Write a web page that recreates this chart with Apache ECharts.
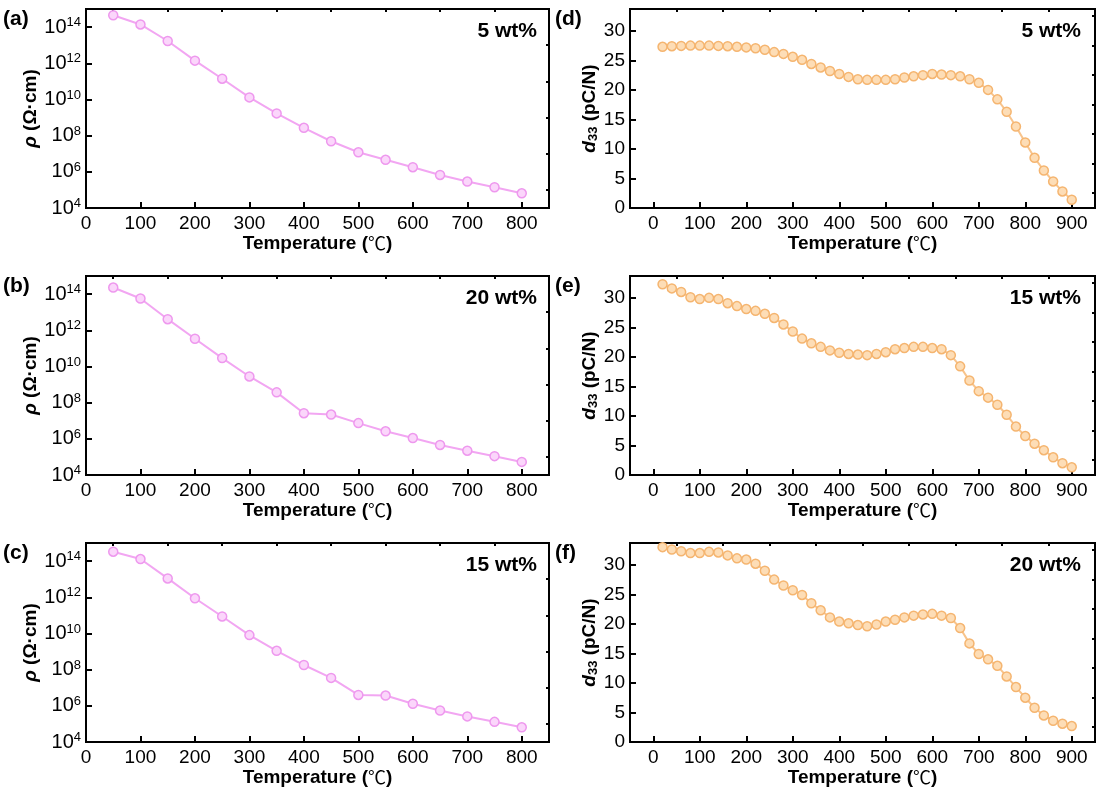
<!DOCTYPE html>
<html>
<head>
<meta charset="utf-8">
<script src="https://cdn.jsdelivr.net/npm/echarts@6/dist/echarts.min.js"></script>
<style>
html, body { margin: 0; padding: 0; background: #fff; }
#chart { width: 1099px; height: 798px; }
</style>
</head>
<body>
<div id="chart"></div>
<script>
// (a)-(c): resistivity vs temperature, rho in Ω·cm
const rhoTemps = [50, 100, 150, 200, 250, 300, 350, 400, 450, 500, 550, 600, 650, 700, 750, 800];
const rho5  = [4.5e14, 1.4e14, 1.7e13, 1.4e12, 1.4e11, 1.3e10, 1.7e9, 2.7e8, 4.9e7, 1.2e7, 4.6e6, 1.8e6, 6.7e5, 2.9e5, 1.4e5, 6.5e4];
const rho20 = [2.3e14, 5.7e13, 4.1e12, 3.4e11, 2.9e10, 2.8e9, 3.7e8, 2.6e7, 2.2e7, 7.4e6, 2.6e6, 1.1e6, 4.6e5, 2.2e5, 1.1e5, 5.3e4];
const rho15 = [3.3e14, 1.3e14, 1.1e13, 8.8e11, 8.7e10, 8.1e9, 1.1e9, 1.8e8, 3.5e7, 4.0e6, 3.7e6, 1.3e6, 5.5e5, 2.6e5, 1.3e5, 6.5e4];

// (d)-(f): d33 vs temperature, pC/N
const d33Temps = [20, 40, 60, 80, 100, 120, 140, 160, 180, 200, 220, 240, 260, 280, 300, 320, 340, 360, 380, 400, 420, 440, 460,
  480, 500, 520, 540, 560, 580, 600, 620, 640, 660, 680, 700, 720, 740, 760, 780, 800, 820, 840, 860, 880, 900];
const d33_5  = [27.3, 27.4, 27.45, 27.5, 27.5, 27.5, 27.45, 27.4, 27.3, 27.2, 27.05, 26.8, 26.4, 26.1, 25.6, 25.1, 24.4, 23.8, 23.2, 22.7, 22.2, 21.8, 21.7,
  21.7, 21.7, 21.8, 22.1, 22.3, 22.5, 22.7, 22.6, 22.5, 22.3, 21.8, 21.2, 20.0, 18.4, 16.3, 13.8, 11.1, 8.5, 6.35, 4.5, 2.8, 1.4];
const d33_15 = [32.3, 31.6, 31.0, 30.1, 29.8, 30.0, 29.8, 29.1, 28.6, 28.1, 27.8, 27.3, 26.6, 25.5, 24.3, 23.1, 22.3, 21.7, 21.1, 20.7, 20.5, 20.4, 20.3,
  20.5, 20.8, 21.3, 21.5, 21.7, 21.7, 21.5, 21.3, 20.3, 18.4, 16.0, 14.2, 13.1, 11.9, 10.2, 8.2, 6.6, 5.3, 4.2, 3.0, 2.0, 1.3];
const d33_20 = [33.0, 32.6, 32.3, 32.0, 32.0, 32.2, 32.1, 31.6, 31.1, 30.9, 30.2, 29.0, 27.5, 26.5, 25.7, 24.9, 23.5, 22.3, 21.1, 20.4, 20.1, 19.8, 19.6,
  19.9, 20.4, 20.7, 21.1, 21.4, 21.6, 21.7, 21.4, 21.0, 19.3, 16.7, 14.9, 14.0, 12.9, 11.1, 9.3, 7.5, 5.8, 4.5, 3.6, 3.1, 2.7];

// tick values
const rhoMajorExp = [4, 6, 8, 10, 12, 14];
const rhoMinorExp = [5, 7, 9, 11, 13];
const tempMajorL = [0, 100, 200, 300, 400, 500, 600, 700, 800];
const tempMinorL = [50, 150, 250, 350, 450, 550, 650, 750];
const tempMajorR = [0, 100, 200, 300, 400, 500, 600, 700, 800, 900];
const tempMinorR = [50, 150, 250, 350, 450, 550, 650, 750, 850];
const d33Major = [0, 5, 10, 15, 20, 25, 30];
const d33Minor = [2.5, 7.5, 12.5, 17.5, 22.5, 27.5, 32.5];

const panels = [
  { tag: '(a)', label: '5 wt%',  col: 0, row: 0, x: rhoTemps, y: rho5,   kind: 'rho' },
  { tag: '(b)', label: '20 wt%', col: 0, row: 1, x: rhoTemps, y: rho20,  kind: 'rho' },
  { tag: '(c)', label: '15 wt%', col: 0, row: 2, x: rhoTemps, y: rho15,  kind: 'rho' },
  { tag: '(d)', label: '5 wt%',  col: 1, row: 0, x: d33Temps, y: d33_5,  kind: 'd33' },
  { tag: '(e)', label: '15 wt%', col: 1, row: 1, x: d33Temps, y: d33_15, kind: 'd33' },
  { tag: '(f)', label: '20 wt%', col: 1, row: 2, x: d33Temps, y: d33_20, kind: 'd33' }
];

const FONT = '"Liberation Sans", Arial, "Noto Sans CJK SC", sans-serif';
const rowTop = [9, 276, 543];
const colLeft = [86, 630];
const colWidth = [463, 465];
const plotH = 199;

const grid = [], xAxis = [], yAxis = [], series = [], graphic = [];

panels.forEach((p, i) => {
  const isRho = p.kind === 'rho';
  const left = colLeft[p.col], top = rowTop[p.row];
  grid.push({ left: left, top: top, width: colWidth[p.col], height: plotH,
    show: true, borderColor: '#000', borderWidth: 2, backgroundColor: 'transparent' });

  const xr = isRho ? { min: 0, max: 850 } : { min: -50, max: 950 };
  const yr = isRho ? { min: 4, max: 15 } : { min: 0, max: 33.7 };

  // main x axis with labels
  xAxis.push({
    type: 'value', gridIndex: i, min: xr.min, max: xr.max,
    name: 'Temperature ({c|℃})', nameLocation: 'middle', nameGap: 25,
    nameTextStyle: { fontFamily: FONT, fontSize: 19, fontWeight: 'bold', color: '#000',
      rich: { c: { fontFamily: '"Noto Sans CJK SC", sans-serif', fontSize: 18, fontWeight: 'normal', color: '#000' } } },
    axisLine: { show: true, onZero: false, lineStyle: { color: '#000', width: 2 } },
    axisTick: { show: true, inside: true, length: 6, lineStyle: { color: '#000', width: 2 },
      customValues: isRho ? tempMajorL : tempMajorR },
    axisLabel: { fontFamily: FONT, fontSize: 19, color: '#000', margin: 6,
      customValues: isRho ? tempMajorL : tempMajorR },
    splitLine: { show: false }
  });
  // minor ticks
  xAxis.push({
    type: 'value', gridIndex: i, min: xr.min, max: xr.max,
    axisLine: { show: false, onZero: false },
    axisTick: { show: true, inside: true, length: 3, lineStyle: { color: '#000', width: 2 },
      customValues: isRho ? tempMinorL : tempMinorR },
    axisLabel: { show: false }, splitLine: { show: false }
  });

  yAxis.push({
    type: 'value', gridIndex: i, min: yr.min, max: yr.max,
    name: isRho ? '{i|ρ} (Ω·cm)' : '{i|d}{sub|33} (pC/N)',
    nameLocation: 'middle', nameGap: isRho ? 44 : 28,
    nameTextStyle: { fontFamily: FONT, fontSize: 19, fontWeight: 'bold', color: '#000',
      rich: {
        i: { fontFamily: FONT, fontSize: 19, fontWeight: 'bold', fontStyle: 'italic', color: '#000' },
        sub: { fontFamily: FONT, fontSize: 13, fontWeight: 'bold', color: '#000', verticalAlign: 'bottom', padding: [8, 0, 0, 0] }
      } },
    axisLine: { show: true, onZero: false, lineStyle: { color: '#000', width: 2 } },
    axisTick: { show: true, inside: true, length: 6, lineStyle: { color: '#000', width: 2 },
      customValues: isRho ? rhoMajorExp : d33Major },
    axisLabel: { fontFamily: FONT, fontSize: 19, color: '#000', margin: 5,
      customValues: isRho ? rhoMajorExp : d33Major,
      formatter: isRho ? (v => '{b|10}{s|' + v + '}') : null,
      rich: {
        b: { fontFamily: FONT, fontSize: 20, color: '#000', lineHeight: 22 },
        s: { fontFamily: FONT, fontSize: 13, color: '#000', verticalAlign: 'top', lineHeight: 22, padding: [0, 0, 12, 0] }
      } },
    splitLine: { show: false }
  });
  yAxis.push({
    type: 'value', gridIndex: i, min: yr.min, max: yr.max,
    axisLine: { show: false, onZero: false },
    axisTick: { show: true, inside: true, length: 3, lineStyle: { color: '#000', width: 2 },
      customValues: isRho ? rhoMinorExp : d33Minor },
    axisLabel: { show: false }, splitLine: { show: false }
  });

  const line = isRho ? '#F2A6F2' : '#F8C48C';
  const fill = isRho ? '#FBD6FB' : '#FDDDB6';
  const edge = isRho ? '#EE98EE' : '#F5B570';
  series.push({
    type: 'line', xAxisIndex: 2 * i, yAxisIndex: 2 * i,
    data: p.x.map((t, k) => [t, isRho ? Math.log10(p.y[k]) : p.y[k]]),
    symbol: 'circle', symbolSize: 9,
    lineStyle: { color: line, width: 2 },
    itemStyle: { color: fill, borderColor: edge, borderWidth: 1.5 }
  });

  graphic.push({
    type: 'text', left: p.col === 0 ? 3 : 555, top: top,
    style: { text: p.tag, font: 'bold 21px ' + FONT, fill: '#000' }
  });
  graphic.push({
    type: 'text', right: p.col === 0 ? 1099 - 537 : 1099 - 1081, top: top + 12,
    style: { text: p.label, font: 'bold 21px ' + FONT, fill: '#000' }
  });
});

const chart = echarts.init(document.getElementById('chart'));
chart.setOption({
  animation: false,
  backgroundColor: '#fff',
  grid, xAxis, yAxis, series, graphic
});
</script>
</body>
</html>
